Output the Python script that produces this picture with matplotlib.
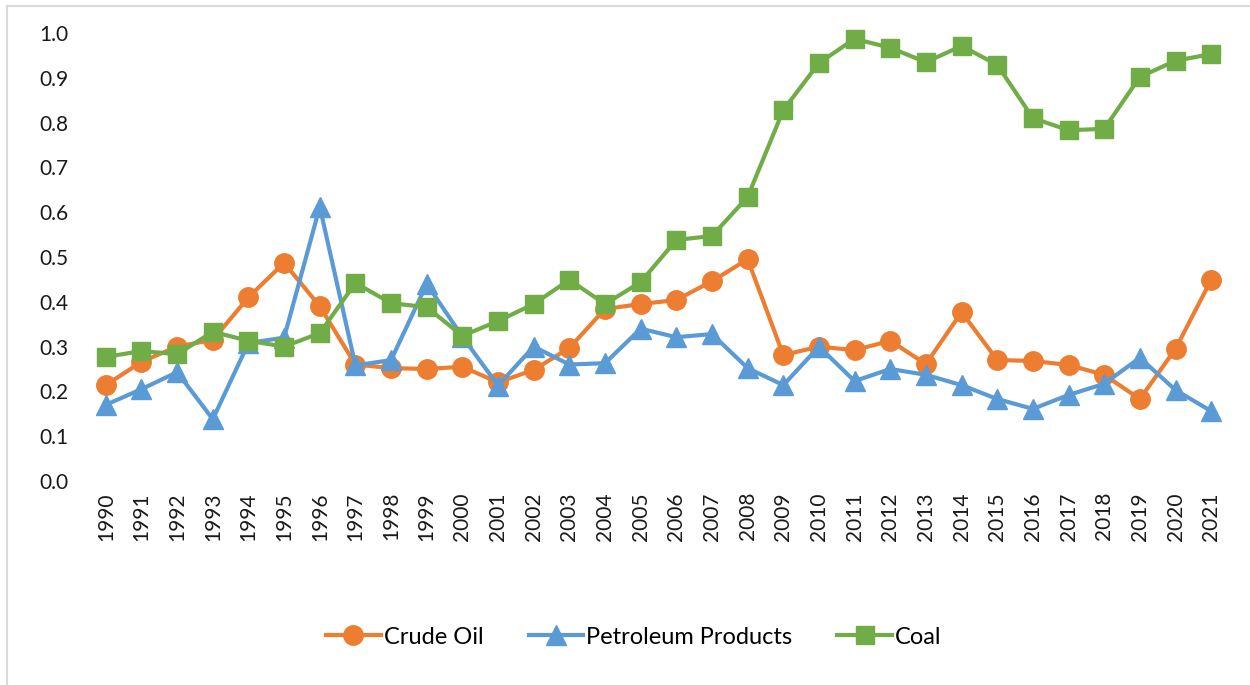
import matplotlib
matplotlib.use('Agg')
import matplotlib.pyplot as plt
from matplotlib.lines import Line2D

years = list(range(1990, 2022))

crude_oil = [0.214, 0.266, 0.30, 0.315, 0.41, 0.487, 0.39, 0.26, 0.252, 0.25,
             0.255, 0.22, 0.248, 0.297, 0.384, 0.395, 0.404, 0.446, 0.495, 0.281,
             0.30, 0.292, 0.313, 0.261, 0.377, 0.27, 0.268, 0.259, 0.237, 0.183,
             0.295, 0.449]

petroleum = [0.17, 0.205, 0.243, 0.138, 0.308, 0.32, 0.612, 0.258, 0.27, 0.44,
             0.322, 0.213, 0.30, 0.26, 0.263, 0.34, 0.321, 0.328, 0.252, 0.214,
             0.30, 0.223, 0.25, 0.237, 0.214, 0.183, 0.161, 0.192, 0.217, 0.275,
             0.203, 0.156]

coal = [0.277, 0.29, 0.283, 0.333, 0.313, 0.30, 0.33, 0.442, 0.397, 0.388,
        0.324, 0.357, 0.395, 0.449, 0.395, 0.444, 0.538, 0.547, 0.634, 0.828,
        0.933, 0.987, 0.967, 0.935, 0.971, 0.929, 0.81, 0.783, 0.786, 0.902,
        0.938, 0.953]

yticks = [0.0, 0.1, 0.2, 0.3, 0.4, 0.5, 0.6, 0.7, 0.8, 0.9, 1.0]

plt.rcParams['font.family'] = ['Lato', 'DejaVu Sans']

W, H = 1250, 685
fig = plt.figure(figsize=(W / 100, H / 100), dpi=100)
ax = fig.add_axes([88 / W, 1 - 481 / H, (1229 - 88) / W, (481 - 33) / H])

# chart area border (only left and top visible)
fig.add_artist(Line2D([7 / W, 7 / W], [0, 1 - 6 / H], color='#d9d9d9', lw=1.5))
fig.add_artist(Line2D([7 / W, 1], [1 - 6 / H, 1 - 6 / H], color='#d9d9d9', lw=1.5))

x = list(range(len(years)))
ax.plot(x, crude_oil, color='#ED7D31', lw=3, marker='o', markersize=14,
        label='Crude Oil', clip_on=False)
ax.plot(x, petroleum, color='#5B9BD5', lw=3, marker='^', markersize=15,
        label='Petroleum Products', clip_on=False)
ax.plot(x, coal, color='#70AD47', lw=3, marker='s', markersize=13,
        label='Coal', clip_on=False)

ax.set_xlim(-0.5, len(years) - 0.5)
ax.set_ylim(0, 1.0)
ax.set_yticks(yticks)
ax.set_yticklabels(['%.1f' % v for v in yticks])
ax.set_xticks(x)
ax.set_xticklabels([str(y) for y in years], rotation=90)

for s in ax.spines.values():
    s.set_visible(False)
ax.tick_params(axis='both', length=0, labelsize=15, colors='#1a1a1a')
ax.tick_params(axis='y', pad=14)
ax.tick_params(axis='x', pad=8)

fig.legend(loc='center', bbox_to_anchor=(634 / W, 1 - 637 / H), ncol=3,
           frameon=False, fontsize=17, handlelength=2.3, columnspacing=1.9,
           handletextpad=0.15)

fig.savefig('out.png', dpi=100)
